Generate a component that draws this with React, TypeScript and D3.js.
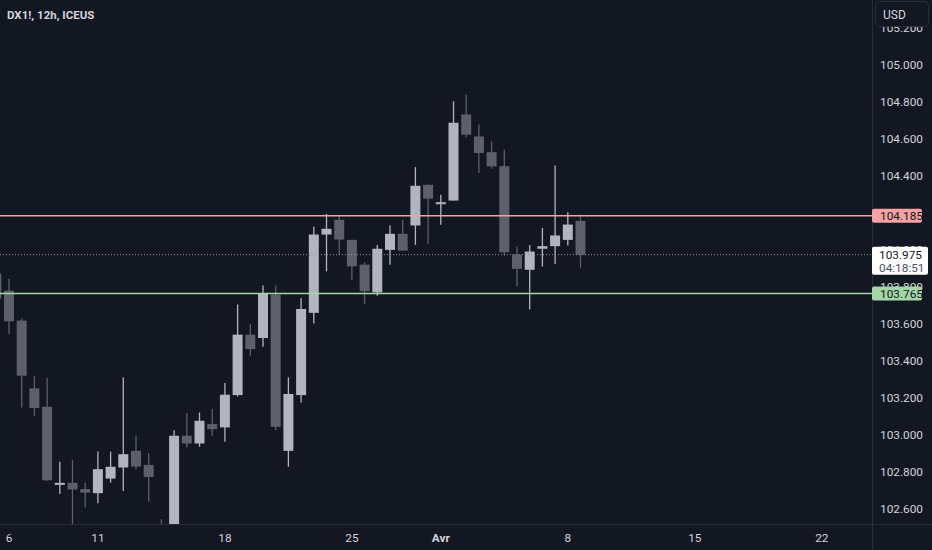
import { useEffect, useRef } from 'react';
import * as d3 from 'd3';

// OHLC values of the 12h candles, first one (index -1) is cut by the left edge
const opens = [103.873, 103.780, 103.618, 103.251, 103.152, 102.729, 102.740, 102.706, 102.684, 102.763, 102.823, 102.913, 102.837, 102.50, 102.42, 102.995, 102.953, 103.058, 103.040, 103.215, 103.542, 103.524, 103.759, 102.913, 103.215, 103.660, 104.084, 104.164, 104.055, 103.921, 103.771, 104.001, 104.088, 104.133, 104.353, 104.248, 104.268, 104.734, 104.615, 104.530, 104.454, 103.976, 103.893, 104.007, 104.021, 104.055, 104.158];
const highs = [103.900, 103.844, 103.629, 103.320, 103.307, 102.854, 102.863, 102.740, 102.909, 102.909, 103.311, 102.995, 102.901, 102.543, 103.025, 103.118, 103.121, 103.139, 103.280, 103.705, 103.600, 103.808, 103.808, 103.311, 103.739, 104.127, 104.196, 104.187, 104.057, 103.934, 104.028, 104.133, 104.164, 104.449, 104.355, 104.299, 104.805, 104.841, 104.680, 104.588, 104.543, 104.019, 104.028, 104.120, 104.458, 104.205, 104.192];
const lows = [103.715, 103.546, 103.148, 103.103, 102.750, 102.679, 102.496, 102.606, 102.630, 102.741, 102.696, 102.814, 102.638, 102.38, 102.40, 102.931, 102.935, 102.995, 102.962, 103.208, 103.428, 103.477, 103.025, 102.827, 103.175, 103.603, 103.885, 103.976, 103.838, 103.708, 103.753, 103.920, 103.997, 104.028, 104.034, 104.137, 104.268, 104.611, 104.418, 104.440, 103.970, 103.804, 103.678, 103.911, 103.925, 104.024, 103.904];
const closes = [103.737, 103.614, 103.320, 103.145, 102.754, 102.740, 102.704, 102.687, 102.814, 102.827, 102.895, 102.828, 102.772, 102.42, 102.995, 102.953, 103.076, 103.031, 103.217, 103.542, 103.464, 103.763, 103.043, 103.221, 103.681, 104.084, 104.115, 104.057, 103.912, 103.777, 104.007, 104.088, 103.997, 104.348, 104.278, 104.259, 104.689, 104.624, 104.525, 104.453, 103.988, 103.898, 103.992, 104.021, 104.079, 104.138, 103.975];
const firstIndex = -1;

// price axis ticks (104.2 sits fully under the red badge, so it is left out)
const priceTicks = [102.6, 102.8, 103.0, 103.2, 103.4, 103.6, 103.8, 104.0, 104.4, 104.6, 104.8, 105.0, 105.2];

// date labels and the candle index they sit on
const dateLabels = ['6', '11', '18', '25', 'Avr', '8', '15', '22'];
const dateIndex = [0, 7, 17, 27, 34, 44, 54, 64];

// horizontal levels
const resistance = 104.185;
const support = 103.765;
const lastPrice = 103.975;
const countdown = '04:18:51';

const App = () => {
  const svgRef = useRef<SVGSVGElement | null>(null);

  useEffect(() => {
    const width = 932;
    const height = 550;
    const plotRight = 872;
    const plotBottom = 524;
    const bg = '#131722';
    const textColor = '#d1d4dc';
    const bull = '#b2b5be';
    const bear = '#5d606b';
    const font = 'Roboto, "Noto Sans", sans-serif';

    const x = d3.scaleLinear().domain([0, 1]).range([9, 21.7]);
    const y = d3.scaleLinear().domain([102.6, 105.0]).range([508.7, 65.3]);

    const svg = d3.select(svgRef.current)
      .attr('width', width)
      .attr('height', height)
      .attr('viewBox', [0, 0, width, height])
      .style('position', 'absolute')
      .style('left', 0)
      .style('top', 0)
      .style('font-family', font);

    svg.selectAll('*').remove();

    svg.append('rect').attr('width', width).attr('height', height).attr('fill', bg);

    svg.append('defs').append('clipPath').attr('id', 'plot')
      .append('rect').attr('width', plotRight).attr('height', plotBottom);

    const plot = svg.append('g').attr('clip-path', 'url(#plot)');

    const candles = opens.map((o, k) => ({
      i: k + firstIndex, o, h: highs[k], l: lows[k], c: closes[k],
    }));

    // wicks
    plot.selectAll('line.wick')
      .data(candles)
      .join('line')
      .attr('class', 'wick')
      .attr('x1', d => x(d.i))
      .attr('x2', d => x(d.i))
      .attr('y1', d => y(d.h))
      .attr('y2', d => y(d.l))
      .attr('stroke', d => (d.c >= d.o ? bull : bear))
      .attr('stroke-width', 1.3);

    // bodies
    plot.selectAll('rect.body')
      .data(candles)
      .join('rect')
      .attr('class', 'body')
      .attr('x', d => x(d.i) - 5)
      .attr('width', 10)
      .attr('y', d => y(Math.max(d.o, d.c)))
      .attr('height', d => Math.max(2, Math.abs(y(d.o) - y(d.c))))
      .attr('fill', d => (d.c >= d.o ? bull : bear));

    // levels
    plot.append('line')
      .attr('x1', 0).attr('x2', plotRight)
      .attr('y1', y(resistance)).attr('y2', y(resistance))
      .attr('stroke', '#f4a2a2').attr('stroke-width', 1.5);
    plot.append('line')
      .attr('x1', 0).attr('x2', plotRight)
      .attr('y1', y(support)).attr('y2', y(support))
      .attr('stroke', '#a5d6a7').attr('stroke-width', 1.5);
    plot.append('line')
      .attr('x1', 0).attr('x2', plotRight)
      .attr('y1', y(lastPrice)).attr('y2', y(lastPrice))
      .attr('stroke', '#9598a1').attr('stroke-width', 1)
      .attr('stroke-dasharray', '1,2');

    // title
    svg.append('text')
      .attr('x', 7).attr('y', 19)
      .attr('fill', textColor)
      .attr('font-size', 11.5)
      .attr('font-weight', 700)
      .text('DX1!, 12h, ICEUS');

    // axis borders
    svg.append('line')
      .attr('x1', plotRight + 0.5).attr('x2', plotRight + 0.5)
      .attr('y1', 0).attr('y2', height)
      .attr('stroke', '#2a2e39');
    svg.append('line')
      .attr('x1', 0).attr('x2', width)
      .attr('y1', plotBottom + 0.5).attr('y2', plotBottom + 0.5)
      .attr('stroke', '#2a2e39');

    // price axis labels
    svg.append('g')
      .selectAll('text')
      .data(priceTicks)
      .join('text')
      .attr('x', 880)
      .attr('y', d => y(d))
      .attr('dy', '0.35em')
      .attr('fill', textColor)
      .attr('font-size', 11.8)
      .text(d => d3.format('.3f')(d));

    // date axis labels
    svg.append('g')
      .selectAll('text')
      .data(dateLabels)
      .join('text')
      .attr('x', (d, k) => x(dateIndex[k]))
      .attr('y', 538)
      .attr('dy', '0.35em')
      .attr('text-anchor', 'middle')
      .attr('fill', textColor)
      .attr('font-size', 11.8)
      .attr('font-weight', d => (d === 'Avr' ? 700 : 400))
      .text(d => d);

    // price badges on the axis
    const badge = (value: number, fill: string) => {
      const cy = y(value);
      svg.append('rect')
        .attr('x', plotRight).attr('y', cy - 7).attr('width', 50).attr('height', 14)
        .attr('rx', 2).attr('fill', fill);
      svg.append('text')
        .attr('x', 880).attr('y', cy).attr('dy', '0.35em')
        .attr('fill', bg).attr('font-size', 11.8)
        .text(d3.format('.3f')(value));
    };
    badge(resistance, '#f4a2a2');
    badge(support, '#a5d6a7');

    const ly = y(lastPrice);
    svg.append('rect')
      .attr('x', plotRight).attr('y', ly - 8).attr('width', 56).attr('height', 28)
      .attr('rx', 2).attr('fill', '#ffffff');
    svg.append('text')
      .attr('x', 879).attr('y', ly).attr('dy', '0.35em')
      .attr('fill', bg).attr('font-size', 11.8)
      .text(d3.format('.3f')(lastPrice));
    svg.append('text')
      .attr('x', 879).attr('y', ly + 13).attr('dy', '0.35em')
      .attr('fill', '#50535e').attr('font-size', 11.8)
      .text(countdown);

    // currency button
    svg.append('rect')
      .attr('x', 875.5).attr('y', 1.5).attr('width', 53).attr('height', 25)
      .attr('rx', 4).attr('fill', bg).attr('stroke', '#2a2e39');
    svg.append('text')
      .attr('x', 883).attr('y', 15).attr('dy', '0.35em')
      .attr('fill', textColor).attr('font-size', 12)
      .text('USD');
  }, []);

  return <svg ref={svgRef}></svg>;
};

export default App;
